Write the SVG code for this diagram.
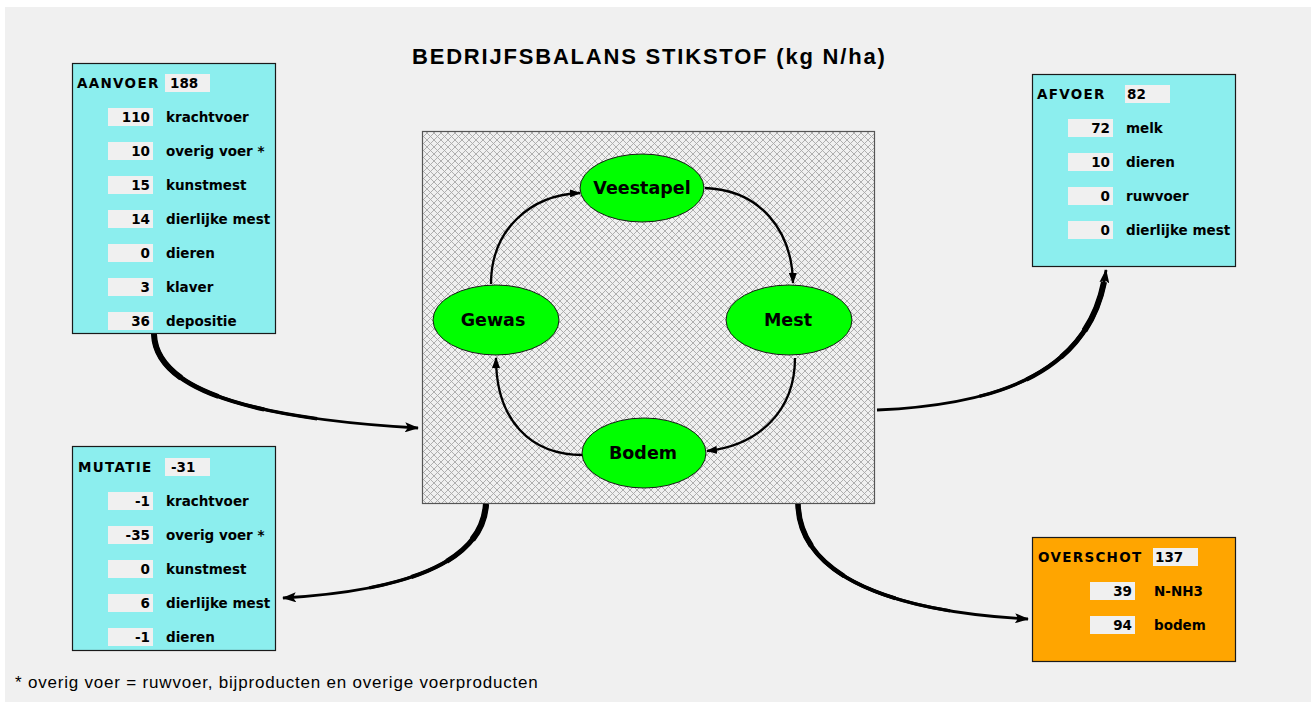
<svg xmlns="http://www.w3.org/2000/svg" width="1316" height="707" viewBox="0 0 1316 707">
<defs>
<pattern id="hatch" width="7" height="7" patternUnits="userSpaceOnUse">
<rect width="7" height="7" fill="#F0F0F0"/>
<path d="M0,0 L7,7 M7,0 L0,7" stroke="#A8A8A8" stroke-width="0.9"/>
</pattern>
<marker id="ah" viewBox="0 0 14 10" refX="13" refY="5" markerWidth="14" markerHeight="10" markerUnits="userSpaceOnUse" orient="auto">
<path d="M0,0 L14,5 L0,10 L3,5 Z" fill="#000"/>
</marker>
<marker id="ahs" viewBox="0 0 11 8" refX="10" refY="4" markerWidth="11" markerHeight="8" markerUnits="userSpaceOnUse" orient="auto">
<path d="M0,0 L11,4 L0,8 Z" fill="#000"/>
</marker>
</defs>
<style>
.t{font-family:"DejaVu Sans","Liberation Sans",sans-serif;font-weight:bold;font-size:13.5px;fill:#000}
.h{letter-spacing:1.3px}
.n{text-anchor:end}
.vb{fill:#F0F0F0}
.box{fill:#8CEEEE;stroke:#1A1A1A;stroke-width:1.2}
.org{fill:#FFA500;stroke:#1A1A1A;stroke-width:1.2}
.ell{fill:#00FF00;stroke:#1A1A1A;stroke-width:1}
.et{font-family:"DejaVu Sans","Liberation Sans",sans-serif;font-weight:bold;font-size:17.5px;text-anchor:middle;fill:#000}
.c1{fill:none;stroke:#000;stroke-width:2.3;marker-end:url(#ahs)}
.c2{fill:none;stroke:#000;stroke-width:2.8;marker-end:url(#ah)}
.tp{fill:none;stroke:#000}
</style>
<rect width="1316" height="707" fill="#FFFFFF"/>
<rect x="5" y="7" width="1306" height="695" fill="#F0F0F0"/>
<text x="412" y="64" style="font-family:'Liberation Sans',Arial,sans-serif;font-weight:bold;font-size:22px;letter-spacing:1.8px">BEDRIJFSBALANS STIKSTOF (kg N/ha)</text>

<g id="centre">
<rect x="422.5" y="131.5" width="452" height="372" fill="url(#hatch)" stroke="#555" stroke-width="1.2"/>
</g>

<g id="connectors">
<path class="c1" d="M491,284 C491,230 530,195 580,193"/>
<path class="c1" d="M705,188 C760,190 792,230 793,283"/>
<path class="c1" d="M795,358 C795,410 760,445 707,451"/>
<path class="c1" d="M583,455 C530,455 496,420 496,358"/>
<path class="c2" d="M154,334 C156,398 280,420 418,428"/>
<path class="tp" pathLength="100" stroke-width="6" stroke-dasharray="18 200" d="M154,334 C156,398 280,420 418,428"/>
<path class="tp" pathLength="100" stroke-width="5" stroke-dasharray="32 200" d="M154,334 C156,398 280,420 418,428"/>
<path class="tp" pathLength="100" stroke-width="4" stroke-dasharray="48 200" d="M154,334 C156,398 280,420 418,428"/>
<path class="tp" pathLength="100" stroke-width="3.4" stroke-dasharray="66 200" d="M154,334 C156,398 280,420 418,428"/>
<path class="c2" d="M877,410 C985,405 1092,380 1106,270"/>
<path class="tp" pathLength="100" stroke-width="3.4" stroke-dasharray="0 35 60 5" d="M877,410 C985,405 1092,380 1106,270"/>
<path class="tp" pathLength="100" stroke-width="4.2" stroke-dasharray="0 52 43 5" d="M877,410 C985,405 1092,380 1106,270"/>
<path class="tp" pathLength="100" stroke-width="5" stroke-dasharray="0 66 29 5" d="M877,410 C985,405 1092,380 1106,270"/>
<path class="tp" pathLength="100" stroke-width="6" stroke-dasharray="0 78 18 4" d="M877,410 C985,405 1092,380 1106,270"/>
<path class="c2" d="M486,504 C482,570 385,592 283,598"/>
<path class="tp" pathLength="100" stroke-width="6.2" stroke-dasharray="16 200" d="M486,504 C482,570 385,592 283,598"/>
<path class="tp" pathLength="100" stroke-width="5" stroke-dasharray="30 200" d="M486,504 C482,570 385,592 283,598"/>
<path class="tp" pathLength="100" stroke-width="4" stroke-dasharray="46 200" d="M486,504 C482,570 385,592 283,598"/>
<path class="tp" pathLength="100" stroke-width="3.3" stroke-dasharray="64 200" d="M486,504 C482,570 385,592 283,598"/>
<path class="c2" d="M798,504 C800,580 900,612 1028,619"/>
<path class="tp" pathLength="100" stroke-width="5.5" stroke-dasharray="16 200" d="M798,504 C800,580 900,612 1028,619"/>
<path class="tp" pathLength="100" stroke-width="4.6" stroke-dasharray="32 200" d="M798,504 C800,580 900,612 1028,619"/>
<path class="tp" pathLength="100" stroke-width="3.8" stroke-dasharray="52 200" d="M798,504 C800,580 900,612 1028,619"/>
<path class="tp" pathLength="100" stroke-width="3.3" stroke-dasharray="72 200" d="M798,504 C800,580 900,612 1028,619"/>
</g>

<g id="veestapel"><ellipse class="ell" cx="642" cy="188" rx="62" ry="34"/><text class="et" x="642" y="194">Veestapel</text></g>
<g id="gewas"><ellipse class="ell" cx="496" cy="320" rx="63" ry="35"/><text class="et" x="493" y="326">Gewas</text></g>
<g id="mest"><ellipse class="ell" cx="789" cy="320" rx="63" ry="35"/><text class="et" x="788" y="326">Mest</text></g>
<g id="bodem"><ellipse class="ell" cx="644" cy="453" rx="62" ry="35"/><text class="et" x="643" y="459">Bodem</text></g>

<g id="aanvoer">
<rect class="box" x="72.5" y="63.5" width="203" height="270"/>
<text class="t h" x="77" y="88">AANVOER</text>
<rect class="vb" x="165" y="74" width="45" height="18"/><text class="t" x="170" y="88">188</text>
<rect class="vb" x="108" y="108" width="45" height="18"/><text class="t n" x="150" y="122">110</text><text class="t" x="166" y="122">krachtvoer</text>
<rect class="vb" x="108" y="142" width="45" height="18"/><text class="t n" x="150" y="156">10</text><text class="t" x="166" y="156">overig voer *</text>
<rect class="vb" x="108" y="176" width="45" height="18"/><text class="t n" x="150" y="190">15</text><text class="t" x="166" y="190">kunstmest</text>
<rect class="vb" x="108" y="210" width="45" height="18"/><text class="t n" x="150" y="224">14</text><text class="t" x="166" y="224">dierlijke mest</text>
<rect class="vb" x="108" y="244" width="45" height="18"/><text class="t n" x="150" y="258">0</text><text class="t" x="166" y="258">dieren</text>
<rect class="vb" x="108" y="278" width="45" height="18"/><text class="t n" x="150" y="292">3</text><text class="t" x="166" y="292">klaver</text>
<rect class="vb" x="108" y="312" width="45" height="18"/><text class="t n" x="150" y="326">36</text><text class="t" x="166" y="326">depositie</text>
</g>

<g id="mutatie">
<rect class="box" x="72.5" y="446.5" width="203" height="204"/>
<text class="t h" x="78" y="472">MUTATIE</text>
<rect class="vb" x="165" y="458" width="45" height="18"/><text class="t" x="171" y="472">-31</text>
<rect class="vb" x="108" y="492" width="45" height="18"/><text class="t n" x="150" y="506">-1</text><text class="t" x="166" y="506">krachtvoer</text>
<rect class="vb" x="108" y="526" width="45" height="18"/><text class="t n" x="150" y="540">-35</text><text class="t" x="166" y="540">overig voer *</text>
<rect class="vb" x="108" y="560" width="45" height="18"/><text class="t n" x="150" y="574">0</text><text class="t" x="166" y="574">kunstmest</text>
<rect class="vb" x="108" y="594" width="45" height="18"/><text class="t n" x="150" y="608">6</text><text class="t" x="166" y="608">dierlijke mest</text>
<rect class="vb" x="108" y="628" width="45" height="18"/><text class="t n" x="150" y="642">-1</text><text class="t" x="166" y="642">dieren</text>
</g>

<g id="afvoer">
<rect class="box" x="1032.5" y="74.5" width="203" height="192"/>
<text class="t h" x="1037" y="99">AFVOER</text>
<rect class="vb" x="1125" y="85" width="45" height="18"/><text class="t" x="1127" y="99">82</text>
<rect class="vb" x="1068" y="119" width="45" height="18"/><text class="t n" x="1110" y="133">72</text><text class="t" x="1126" y="133">melk</text>
<rect class="vb" x="1068" y="153" width="45" height="18"/><text class="t n" x="1110" y="167">10</text><text class="t" x="1126" y="167">dieren</text>
<rect class="vb" x="1068" y="187" width="45" height="18"/><text class="t n" x="1110" y="201">0</text><text class="t" x="1126" y="201">ruwvoer</text>
<rect class="vb" x="1068" y="221" width="45" height="18"/><text class="t n" x="1110" y="235">0</text><text class="t" x="1126" y="235">dierlijke mest</text>
</g>

<g id="overschot">
<rect class="org" x="1032.5" y="537.5" width="203" height="124"/>
<text class="t h" x="1038" y="562">OVERSCHOT</text>
<rect class="vb" x="1153" y="548" width="45" height="18"/><text class="t" x="1155" y="562">137</text>
<rect class="vb" x="1090" y="582" width="45" height="18"/><text class="t n" x="1132" y="596">39</text><text class="t" x="1154" y="596">N-NH3</text>
<rect class="vb" x="1090" y="616" width="45" height="18"/><text class="t n" x="1132" y="630">94</text><text class="t" x="1154" y="630">bodem</text>
</g>

<text x="15" y="688" style="font-family:'Liberation Sans',Arial,sans-serif;font-size:17px;letter-spacing:0.8px;fill:#000">* overig voer = ruwvoer, bijproducten en overige voerproducten</text>
</svg>
